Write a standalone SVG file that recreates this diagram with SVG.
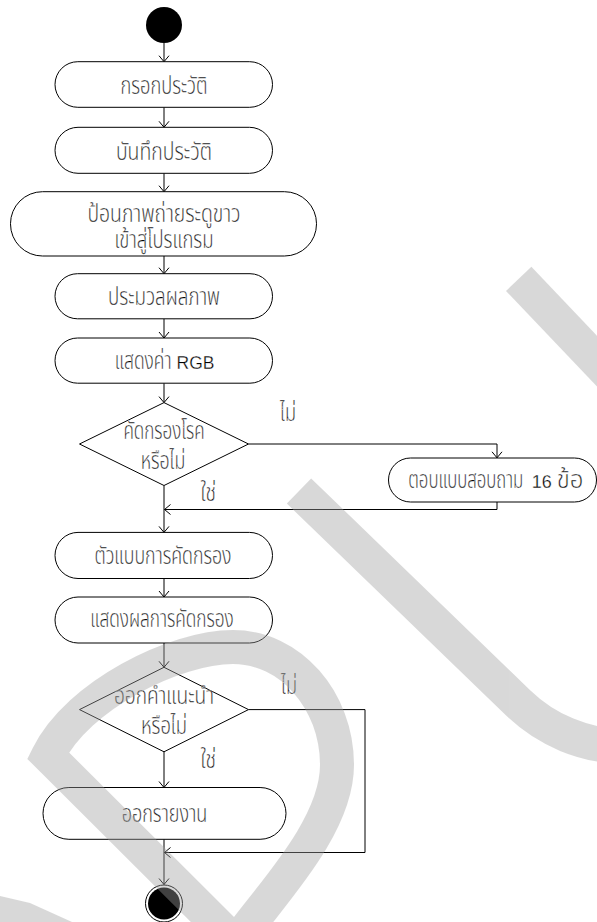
<svg xmlns="http://www.w3.org/2000/svg" width="597" height="922" viewBox="0 0 597 922">
<style>
.box{fill:#fff;stroke:#000;stroke-width:1}
.dia{fill:#fff;stroke:#000;stroke-width:1}
.ln{fill:none;stroke:#000;stroke-width:1}
.t{font-family:"Noto Sans Thai","Noto Sans","DejaVu Sans",sans-serif;font-size:24px;font-weight:300;fill:#000;stroke:#fff;stroke-width:0.3;text-anchor:middle}
.lab{font-family:"Noto Sans Thai","Noto Sans","DejaVu Sans",sans-serif;font-size:24px;font-weight:300;fill:#000;stroke:#fff;stroke-width:0.3}
.lat{font-family:"Liberation Sans",Arial,sans-serif;font-size:17.5px;font-weight:normal;fill:#000;stroke:#fff;stroke-width:0.3}
</style>
<defs>
<marker id="ah" viewBox="-8 -6 10 12" markerWidth="10" markerHeight="12" refX="0" refY="0" orient="auto" markerUnits="userSpaceOnUse">
<path d="M-6,-5 L0,0 L-6,5" fill="none" stroke="#000" stroke-width="1"/>
</marker>
</defs>
<rect width="597" height="922" fill="#fff"/>

<g id="connectors" class="ln" marker-end="url(#ah)">
<path d="M164,43 V61.7"/>
<path d="M164,107.3 V127.3"/>
<path d="M164,173.3 V191.7"/>
<path d="M164,256 V273.7"/>
<path d="M164,318.8 V338"/>
<path d="M164,383.2 V402.6"/>
<path d="M248.5,444 H497 V457.8"/>
<path d="M497,502 V509.5 H164.5"/>
<path d="M164,485.5 V532.4"/>
<path d="M164,578.5 V597"/>
<path d="M164,643 V667.3"/>
<path d="M164,751.8 V787.5"/>
<path d="M248.5,709.6 H365 V852.5 H164.5"/>
<path d="M164,839.3 V884.5"/>
</g>

<g id="start"><circle cx="164" cy="25" r="18" fill="#000"/></g>

<g id="n1"><rect class="box" x="55" y="61.7" width="217.5" height="45.6" rx="22.8"/>
<text class="t" x="164" y="94.3" textLength="87" lengthAdjust="spacingAndGlyphs">กรอกประวัติ</text></g>

<g id="n2"><rect class="box" x="55" y="127.3" width="217.5" height="46" rx="23"/>
<text class="t" x="164" y="160" textLength="96" lengthAdjust="spacingAndGlyphs">บันทึกประวัติ</text></g>

<g id="n3"><rect class="box" x="10.5" y="191.7" width="306" height="64.3" rx="32"/>
<text class="t" x="164" y="222" textLength="153" lengthAdjust="spacingAndGlyphs">ป้อนภาพถ่ายระดูขาว</text>
<text class="t" x="164" y="247.5" textLength="99" lengthAdjust="spacingAndGlyphs">เข้าสู่โปรแกรม</text></g>

<g id="n4"><rect class="box" x="55" y="273.7" width="217.5" height="45.1" rx="22.5"/>
<text class="t" x="164" y="305" textLength="112" lengthAdjust="spacingAndGlyphs">ประมวลผลภาพ</text></g>

<g id="n5"><rect class="box" x="55" y="338" width="217.5" height="45.2" rx="22.6"/>
<text class="t" x="143.2" y="369.3" textLength="56.7" lengthAdjust="spacingAndGlyphs">แสดงค่า</text>
<text class="lat" x="176.6" y="369.3">RGB</text></g>

<g id="d1"><polygon class="dia" points="164,402.6 248.5,444 164,485.5 79.5,444"/>
<text class="t" x="164" y="438.5" textLength="81" lengthAdjust="spacingAndGlyphs">คัดกรองโรค</text>
<text class="t" x="163" y="468.5" textLength="44.5" lengthAdjust="spacingAndGlyphs">หรือไม่</text>
<text class="lab" x="280" y="421" textLength="16" lengthAdjust="spacingAndGlyphs">ไม่</text>
<text class="lab" x="200.5" y="501" textLength="15.5" lengthAdjust="spacingAndGlyphs">ใช่</text></g>

<g id="n6"><rect class="box" x="388.5" y="458" width="208" height="44" rx="22"/>
<text class="t" x="465.8" y="488.3" textLength="115" lengthAdjust="spacingAndGlyphs">ตอบแบบสอบถาม</text>
<text class="lat" x="531.7" y="488.3" style="font-size:18px">16</text>
<text class="t" x="570" y="488.3" textLength="26.6" lengthAdjust="spacingAndGlyphs">ข้อ</text></g>

<g id="n7"><rect class="box" x="55" y="532.4" width="217.5" height="46.1" rx="23"/>
<text class="t" x="163" y="563.5" textLength="137" lengthAdjust="spacingAndGlyphs">ตัวแบบการคัดกรอง</text></g>

<g id="n8"><rect class="box" x="55" y="597" width="217.5" height="46" rx="23"/>
<text class="t" x="162" y="627" textLength="143.3" lengthAdjust="spacingAndGlyphs">แสดงผลการคัดกรอง</text></g>

<g id="d2"><polygon class="dia" points="164,667.3 248.5,709.6 164,751.8 79.5,709.6"/>
<text class="t" x="164" y="703.5" textLength="100" lengthAdjust="spacingAndGlyphs">ออกคำแนะนำ</text>
<text class="t" x="164" y="733.5" textLength="46" lengthAdjust="spacingAndGlyphs">หรือไม่</text>
<text class="lab" x="281" y="694" textLength="16" lengthAdjust="spacingAndGlyphs">ไม่</text>
<text class="lab" x="200.5" y="768" textLength="15.5" lengthAdjust="spacingAndGlyphs">ใช่</text></g>

<g id="n9"><rect class="box" x="43" y="787.5" width="243" height="51.8" rx="25.9"/>
<text class="t" x="164.5" y="821.7" textLength="85.6" lengthAdjust="spacingAndGlyphs">ออกรายงาน</text></g>

<g id="end"><circle cx="164" cy="903.5" r="18.5" fill="#fff" stroke="#000" stroke-width="1"/>
<circle cx="164" cy="903.5" r="16" fill="#000"/></g>

<g id="watermark" opacity="0.4" stroke="#a0a0a0" fill="none" stroke-width="35" stroke-linejoin="miter">
<path d="M518.7,278.9 L690,459"/>
<path d="M299,491 L518.3,703 A154.5,154.5 0 0 0 733.1,480.8"/>
<path d="M236,943 L48,755.5 C78,695 175,647 233,647 C290,647 337,700 337,765 C337,830 264,901.5 236,943 Z" stroke-width="34"/>
<polygon points="0,896 30,903 72,922 0,922" fill="#a0a0a0" stroke="none"/>
</g>
</svg>
